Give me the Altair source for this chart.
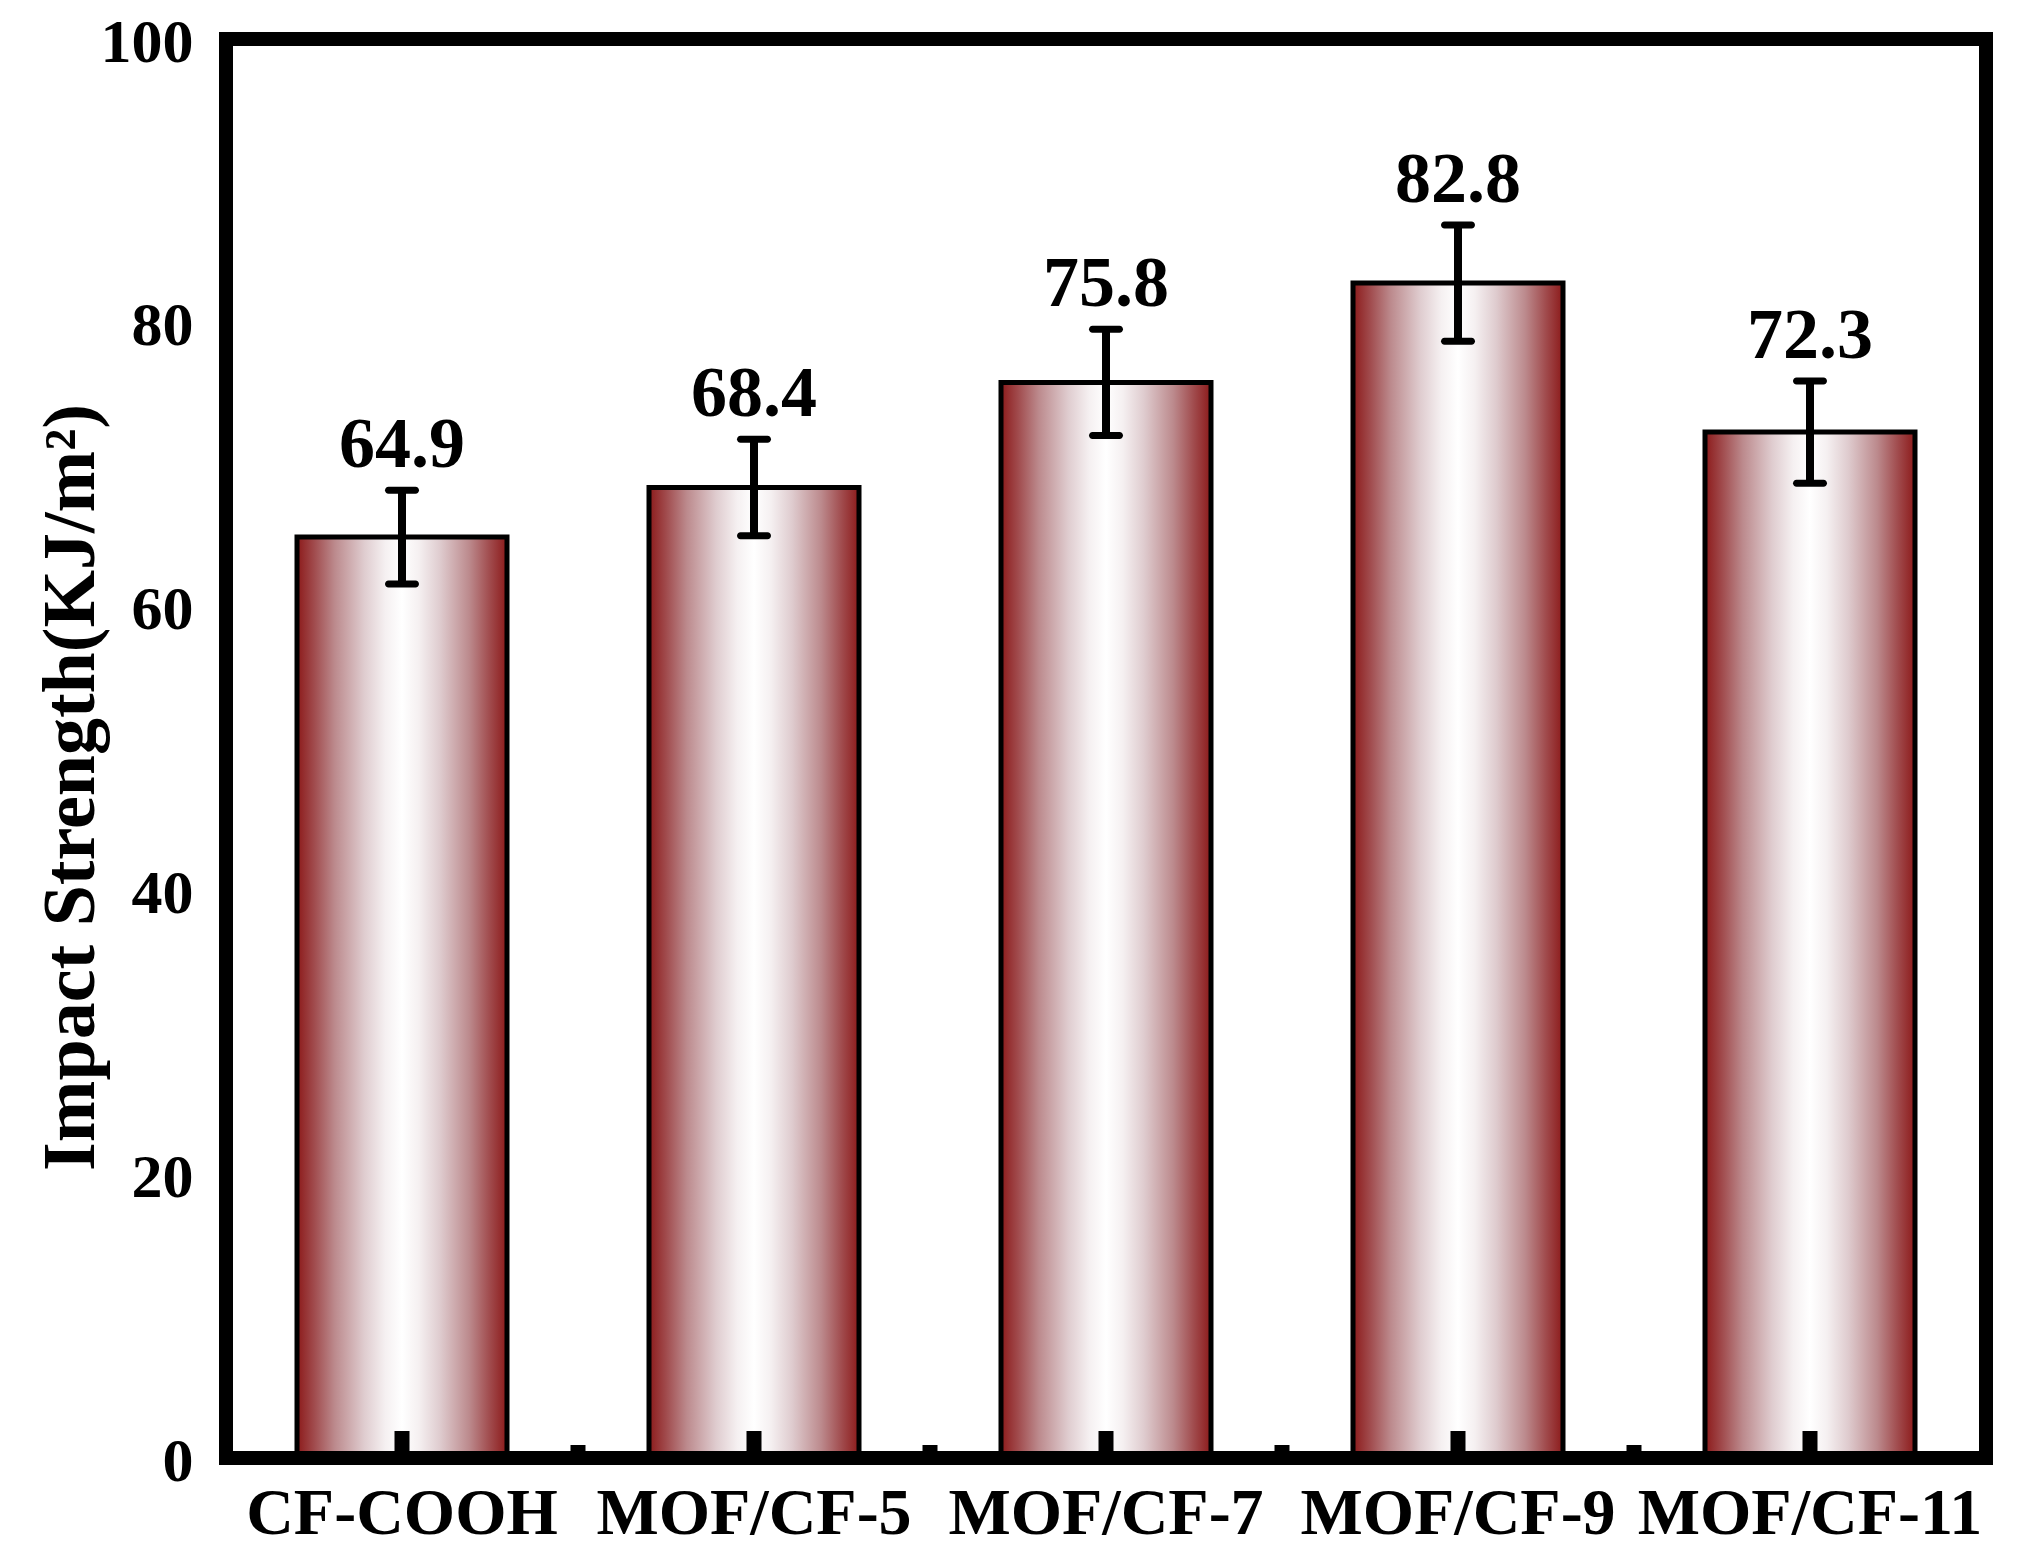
import altair as alt
import pandas as pd

# ---- data ----
categories = ["CF-COOH", "MOF/CF-5", "MOF/CF-7", "MOF/CF-9", "MOF/CF-11"]
values = [64.9, 68.4, 75.8, 82.8, 72.3]
errors = [3.3, 3.4, 3.75, 4.1, 3.6]
y_ticks = [0, 20, 40, 60, 80, 100]
y_title = "Impact Strength(KJ/m\u00b2)"

df = pd.DataFrame({"sample": categories, "value": values, "err": errors})

FONT = "Liberation Serif"
W, H = 1760, 1419

base = alt.Chart(df).transform_calculate(
    upper="datum.value + datum.err",
    lower="datum.value - datum.err",
)

x_scale = alt.Scale(paddingInner=0, paddingOuter=0)
y_scale = alt.Scale(domain=[0, 100], nice=False, zero=True)

x_axis = alt.Axis(title=None, labelAngle=0, labelFont=FONT,
                  labelFontSize=66, labelFontWeight="bold",
                  labelColor="black", labelBaseline="alphabetic",
                  labelPadding=75, ticks=False, tickSize=0,
                  domain=False, grid=False, labelLimit=500, labelOverlap=False)
y_axis = alt.Axis(values=y_ticks, format="d", grid=False, domain=False,
                  ticks=False, tickSize=0, labelPadding=33, labelOffset=3,
                  labelFont=FONT, labelFontSize=62,
                  labelFontWeight="bold", labelColor="black",
                  title=y_title, titleFont=FONT, titleFontSize=74,
                  titleFontWeight="bold", titleColor="black",
                  titleAngle=270, titleAlign="center",
                  titleBaseline="alphabetic", titleX=-133, titleY=748)


def X(**kw):
    return alt.X("sample:N", sort=categories, scale=x_scale, title=None,
                 axis=x_axis, **kw)


def Y(field):
    return alt.Y(field, scale=y_scale, title=y_title, axis=y_axis)


grad = alt.Gradient(
    gradient="linear",
    stops=[
        alt.GradientStop(offset=0.0, color="#8C1A1A"),
        alt.GradientStop(offset=0.08, color="#A04A4C"),
        alt.GradientStop(offset=0.18, color="#BC8A8D"),
        alt.GradientStop(offset=0.32, color="#DFCCCF"),
        alt.GradientStop(offset=0.42, color="#F5F0F1"),
        alt.GradientStop(offset=0.5, color="#FFFFFF"),
        alt.GradientStop(offset=0.58, color="#F5F0F1"),
        alt.GradientStop(offset=0.68, color="#DFCCCF"),
        alt.GradientStop(offset=0.82, color="#BC8A8D"),
        alt.GradientStop(offset=0.92, color="#A04A4C"),
        alt.GradientStop(offset=1.0, color="#8C1A1A"),
    ],
    x1=0, x2=1, y1=0, y2=0,
)

bars = base.mark_bar(size=210, color=grad, stroke="black", strokeWidth=5).encode(
    x=X(),
    y=Y("value:Q"),
)

major_ticks = base.mark_rule(color="black", strokeWidth=15).encode(
    x=X(),
    y=alt.value(H),
    y2=alt.value(H - 27),
)

minor_ticks = base.transform_filter(
    alt.datum.sample != categories[-1]
).mark_rule(color="black", strokeWidth=15).encode(
    x=X(bandPosition=1),
    y=alt.value(H),
    y2=alt.value(H - 13),
)

err_rule = base.mark_rule(color="black", strokeWidth=8).encode(
    x=X(),
    y=Y("lower:Q"),
    y2="upper:Q",
)

cap_hi = base.mark_tick(color="black", opacity=1, thickness=7, size=34,
                        cornerRadius=3.5, orient="horizontal").encode(
    x=X(),
    y=Y("upper:Q"),
)
cap_lo = base.mark_tick(color="black", opacity=1, thickness=7, size=34,
                        cornerRadius=3.5, orient="horizontal").encode(
    x=X(),
    y=Y("lower:Q"),
)

labels = base.mark_text(font=FONT, fontSize=72, fontWeight="bold",
                        color="black", baseline="alphabetic", align="center",
                        dy=-23).encode(
    x=X(),
    y=Y("upper:Q"),
    text=alt.Text("value:Q", format=".1f"),
)

frame = alt.Chart(alt.Data(values=[{"f": 1}])).mark_rect(
    filled=False, stroke="black", strokeWidth=14
).encode(
    x=alt.value(0), x2=alt.value(W),
    y=alt.value(0), y2=alt.value(H),
)

chart = alt.layer(
    bars, major_ticks, minor_ticks, err_rule, cap_hi, cap_lo, labels, frame
).properties(
    width=W, height=H,
    autosize=alt.AutoSizeParams(type="none"),
    padding={"left": 218, "top": 31, "right": 36, "bottom": 91},
    background="white",
).configure_view(stroke=None)

chart.save("out.html", embed_options={"renderer": "svg", "actions": False})
